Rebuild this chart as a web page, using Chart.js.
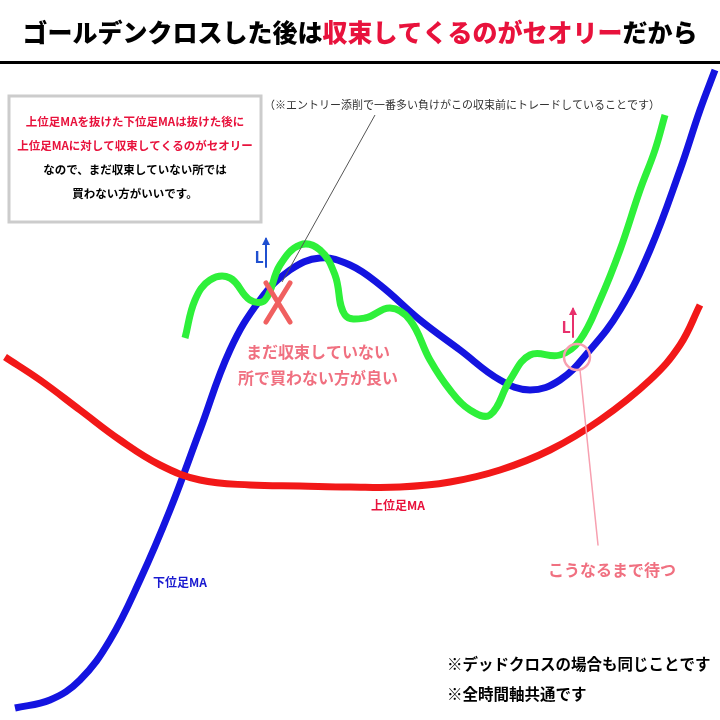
<!DOCTYPE html><html><head><meta charset="utf-8">
<script src="https://cdn.jsdelivr.net/npm/chart.js@4.4.0/dist/chart.umd.min.js"></script>
<style>html,body{margin:0;padding:0;background:#fff}#w{width:720px;height:720px}</style></head><body><div id="w"><canvas id="c"></canvas></div>
<script>
const redX=[5,40,80,120,160,200,250,300,350,400,450,500,550,600,650,680,700];
const redY=[357,380,410,440,465,480,485,486,487,487,482,470,450,420,380,345,305];
const blueX=[15,50,80,110,140,170,200,230,260,290,320,350,380,420,460,500,530,560,590,620,650,680,700,715];
const blueY=[708,700,680,640,580,510,430,350,300,270,258,265,285,320,350,380,390,380,350,310,250,170,110,70];
const greenX=[185,195,210,230,250,265,280,300,320,335,345,365,390,410,430,450,470,490,510,530,560,580,600,620,640,655,665];
const greenY=[338,300,280,278,300,300,265,245,250,275,315,318,308,320,360,390,410,415,380,355,355,340,300,250,190,150,115];
const pts=(xs,ys)=>xs.map((x,i)=>({x,y:ys[i]}));
const F='"Noto Sans CJK JP",sans-serif';
const deco={id:'deco',afterDraw(ch){const c=ch.ctx,sx=ch.scales.x,sy=ch.scales.y,X=v=>sx.getPixelForValue(v),Y=v=>sy.getPixelForValue(v);
c.save();c.textBaseline='middle';
c.font='900 25px '+F;c.textAlign='left';
const parts=[['ゴールデンクロスした後は','#000'],['収束してくるのがセオリー','#e8123c'],['だから','#000']];
let tw=parts.reduce((s,p)=>s+c.measureText(p[0]).width,0),x0=360-tw/2;
parts.forEach(p=>{c.fillStyle=p[1];c.fillText(p[0],x0,32);x0+=c.measureText(p[0]).width;});
c.fillStyle='#000';c.fillRect(0,61,720,3);
c.fillStyle='#fff';c.strokeStyle='#ccc';c.lineWidth=3;c.fillRect(9,96,252,126);c.strokeRect(9,96,252,126);
c.textAlign='center';c.font='bold 11.5px '+F;
[['上位足MAを抜けた下位足MAは抜けた後に','#e8123c'],['上位足MAに対して収束してくるのがセオリー','#e8123c'],['なので、まだ収束していない所では','#000'],['買わない方がいいです。','#000']].forEach((l,i)=>{c.fillStyle=l[1];c.fillText(l[0],135,122+i*24);});
c.font='11px '+F;c.fillStyle='#333';c.fillText('（※エントリー添削で一番多い負けがこの収束前にトレードしていることです）',462,105);
c.strokeStyle='#555';c.lineWidth=1;c.beginPath();c.moveTo(X(375),Y(115));c.lineTo(X(282),Y(282));c.stroke();
c.font='bold 16px '+F;c.fillStyle='#f07080';c.fillText('まだ収束していない',318,352);c.fillText('所で買わない方が良い',318,378);
c.fillText('こうなるまで待つ',612,570);
c.font='bold 12px '+F;c.fillStyle='#e8123c';c.fillText('上位足MA',398,505);
c.fillStyle='#1a1ad0';c.fillText('下位足MA',180,582);
c.font='bold 15.5px '+F;c.fillStyle='#000';c.textAlign='left';c.fillText('※デッドクロスの場合も同じことです',447,664);c.fillText('※全時間軸共通です',447,694);
c.strokeStyle='#f06060';c.lineWidth=5;c.lineCap='round';
c.beginPath();c.moveTo(X(266),Y(283));c.lineTo(X(290),Y(322));c.moveTo(X(290),Y(283));c.lineTo(X(266),Y(322));c.stroke();
c.strokeStyle='#f7a0b0';c.lineWidth=2.5;c.beginPath();c.arc(X(577),Y(357),13,0,Math.PI*2);c.stroke();
c.lineWidth=1.5;c.beginPath();c.moveTo(X(580),Y(370));c.lineTo(X(598),Y(545));c.stroke();
function L(x,y,col){c.fillStyle=col;c.font='bold 16px '+F;c.textAlign='center';c.fillText('L',x-7,y+12);c.strokeStyle=col;c.lineWidth=2;c.beginPath();c.moveTo(x,y+22);c.lineTo(x,y-6);c.stroke();c.beginPath();c.moveTo(x-4,y);c.lineTo(x,y-8);c.lineTo(x+4,y);c.fill();}
L(266,245,'#2050d0');L(573,315,'#e8306c');
c.restore();}};
new Chart(document.getElementById('c'),{type:'line',data:{datasets:[
{data:pts(redX,redY),borderColor:'#f21818',borderWidth:7,tension:0.4,pointRadius:0},
{data:pts(greenX,greenY),borderColor:'#2ef03a',borderWidth:7,tension:0.4,pointRadius:0},
{data:pts(blueX,blueY),borderColor:'#1414e0',borderWidth:7,tension:0.4,pointRadius:0}]},
options:{responsive:true,maintainAspectRatio:false,animation:false,layout:{padding:0},
plugins:{legend:{display:false},tooltip:{enabled:false}},
scales:{x:{type:'linear',min:0,max:720,display:false},y:{min:0,max:720,reverse:true,display:false}}},
plugins:[deco]});
</script></body></html>
